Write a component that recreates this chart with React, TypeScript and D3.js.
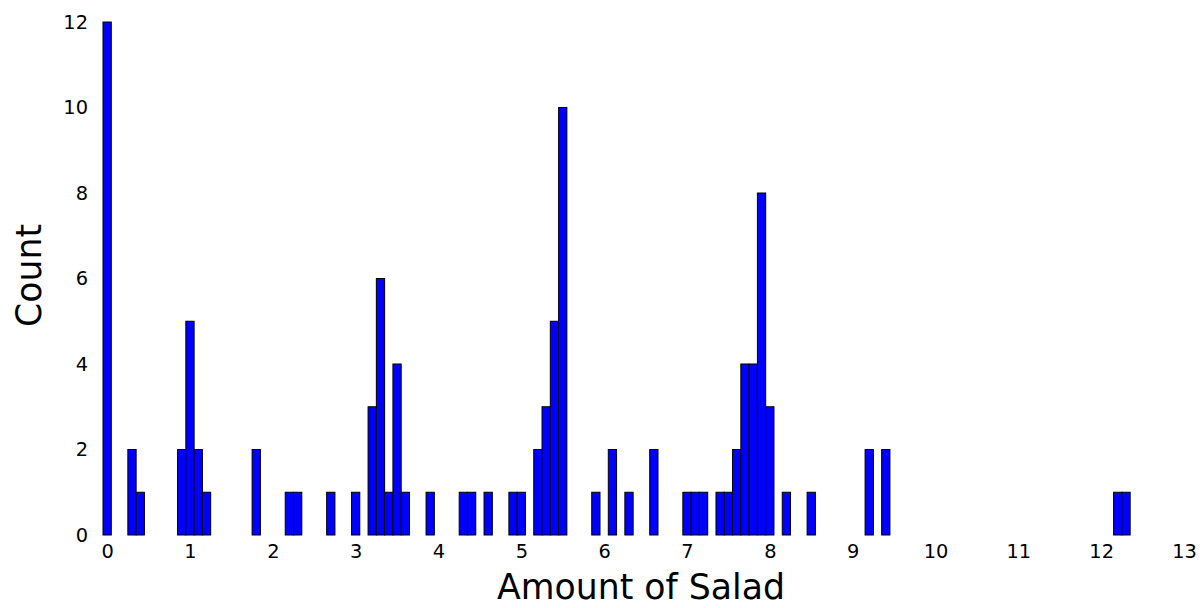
import React, { useEffect, useRef } from 'react'
import * as d3 from 'd3'

// bin centres (amount of salad) and counts
const amounts = [
  0.0, 0.3, 0.4, 0.9, 1.0, 1.1, 1.2, 1.8, 2.2, 2.3, 2.7, 3.0, 3.2, 3.3, 3.4, 3.5, 3.6, 3.9,
  4.3, 4.4, 4.6, 4.9, 5.0, 5.2, 5.3, 5.4, 5.5, 5.9, 6.1, 6.3, 6.6, 7.0, 7.1, 7.2, 7.4, 7.5,
  7.6, 7.7, 7.8, 7.9, 8.0, 8.2, 8.5, 9.2, 9.4, 12.2, 12.3,
]
const counts = [
  12, 2, 1, 2, 5, 2, 1, 2, 1, 1, 1, 1, 3, 6, 1, 4, 1, 1,
  1, 1, 1, 1, 1, 2, 3, 5, 10, 1, 2, 1, 2, 1, 1, 1, 1, 1,
  2, 4, 4, 8, 3, 1, 1, 2, 2, 1, 1,
]
const binWidth = 0.1
const xTicks = d3.range(0, 14)
const yTicks = [0, 2, 4, 6, 8, 10, 12]

const W = 1203
const H = 608
const FONT = 'DejaVu Sans, sans-serif'

const App = () => {
  const ref = useRef<SVGSVGElement>(null)

  useEffect(() => {
    const svg = d3.select(ref.current)
    svg.selectAll('*').remove()

    const x = d3.scaleLinear().domain([-0.05, 13]).range([103, 1184])
    const y = d3.scaleLinear().domain([0, 12]).range([535, 22])

    const data = amounts.map((a, i) => ({ a, c: counts[i] }))

    svg
      .append('g')
      .selectAll('rect')
      .data(data)
      .join('rect')
      .attr('x', (d) => x(d.a - binWidth / 2))
      .attr('y', (d) => y(d.c))
      .attr('width', (d) => x(d.a + binWidth / 2) - x(d.a - binWidth / 2))
      .attr('height', (d) => y(0) - y(d.c))
      .attr('fill', '#0000ff')
      .attr('stroke', '#000')
      .attr('stroke-width', 1)

    // x axis (labels only)
    const gx = svg
      .append('g')
      .attr('transform', `translate(0,${y(0)})`)
      .call(d3.axisBottom(x).tickValues(xTicks).tickSize(0).tickPadding(9).tickFormat(d3.format('d')))
    gx.select('.domain').remove()
    gx.selectAll('text').attr('font-size', '19.4px').attr('font-family', FONT).attr('fill', '#000')

    // y axis (labels only)
    const gy = svg
      .append('g')
      .attr('transform', `translate(${x(-0.05)},0)`)
      .call(d3.axisLeft(y).tickValues(yTicks).tickSize(0).tickPadding(15).tickFormat(d3.format('d')))
    gy.select('.domain').remove()
    gy.selectAll('text').attr('font-size', '19.4px').attr('font-family', FONT).attr('fill', '#000')

    svg
      .append('text')
      .attr('x', 641)
      .attr('y', 599)
      .attr('text-anchor', 'middle')
      .attr('font-size', '34.7px')
      .attr('font-family', FONT)
      .text('Amount of Salad')

    svg
      .append('text')
      .attr('transform', `translate(41,${(y(0) + y(12)) / 2 - 3}) rotate(-90)`)
      .attr('text-anchor', 'middle')
      .attr('font-size', '34.7px')
      .attr('font-family', FONT)
      .text('Count')
  }, [])

  return (
    <svg
      ref={ref}
      width={W}
      height={H}
      style={{ position: 'absolute', left: 0, top: 0, background: '#fff' }}
    ></svg>
  )
}

export default App
